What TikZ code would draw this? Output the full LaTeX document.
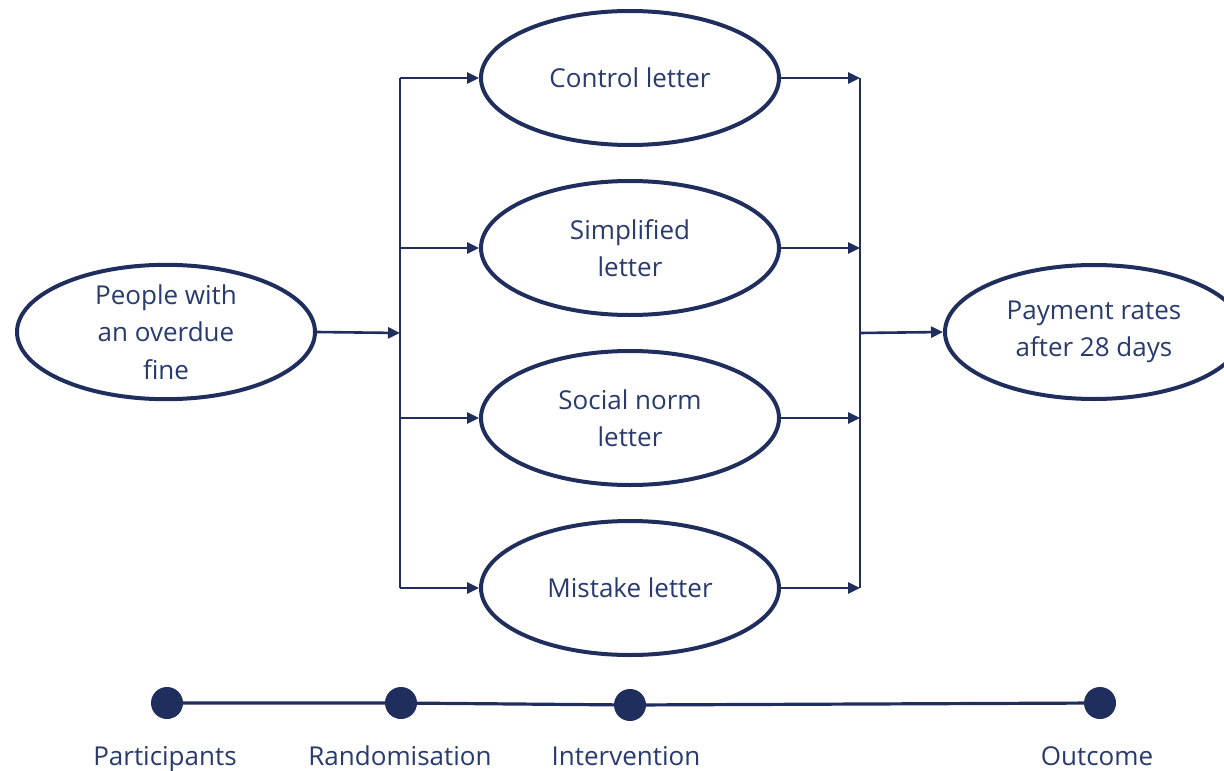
\documentclass[tikz,border=0pt]{standalone}
\usepackage{fontspec}
\setmainfont{Open Sans}
\usetikzlibrary{shapes.geometric,arrows.meta}
\definecolor{navy}{RGB}{31,46,92}
\definecolor{txt}{RGB}{40,58,110}
\tikzset{
  oval/.style={ellipse, draw=navy, line width=4pt, minimum width=298pt, minimum height=134pt, inner sep=0pt, align=center, text=txt, font=\fontsize{26}{37.5}\selectfont},
  conn/.style={draw=navy, line width=2.6pt},
  arr/.style={conn, -{Triangle[length=12pt,width=11pt]}},
  dot/.style={circle, fill=navy, minimum size=32pt, inner sep=0pt},
  lbl/.style={text=txt, font=\fontsize{26}{30}\selectfont, anchor=base},
}
\begin{document}
\begin{tikzpicture}[x=1pt,y=-1pt]
\useasboundingbox (0,0) rectangle (1224,771);
\node[oval] (p) at (166,332) {People with\\an overdue\\fine};
\node[oval] (c1) at (630,78) {Control letter};
\node[oval] (c2) at (630,248) {Simplified\\letter};
\node[oval] (c3) at (630,418) {Social norm\\letter};
\node[oval] (c4) at (630,588) {Mistake letter};
\node[oval] (o) at (1094,332) {Payment rates\\after 28 days};
\coordinate (lt) at (400,78);
\coordinate (lm) at (400,333);
\coordinate (lb) at (400,588);
\coordinate (rt) at (860,78);
\coordinate (rm) at (860,333);
\coordinate (rb) at (860,588);
\draw[conn] (lt) -- (lb);
\draw[conn] (rt) -- (rb);
\draw[arr] (p.east) -- (lm);
\foreach \i/\y in {1/78,2/248,3/418,4/588}{
  \draw[arr] (400,\y) -- (c\i.west);
  \draw[arr] (c\i.east) -- (860,\y);
}
\draw[arr] (rm) -- (o.west);
% timeline
\node[dot] (d1) at (167,703) {};
\node[dot] (d2) at (401,703) {};
\node[dot] (d3) at (630,705) {};
\node[dot] (d4) at (1100,703) {};
\draw[navy, line width=3.2pt] (d1) -- (d2) -- (d3) -- (d4);
\node[lbl] (l1) at (165,765) {Participants};
\node[lbl] (l2) at (400,765) {Randomisation};
\node[lbl] (l3) at (626,765) {Intervention};
\node[lbl] (l4) at (1097,765) {Outcome};
\end{tikzpicture}
\end{document}
